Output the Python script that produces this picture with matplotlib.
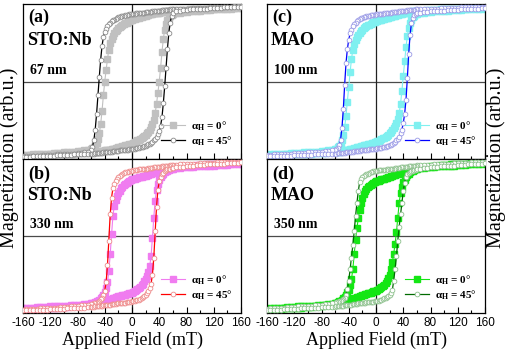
import matplotlib
matplotlib.use("Agg")
import matplotlib.pyplot as plt
from matplotlib.ticker import MultipleLocator

plt.rcParams['mathtext.fontset'] = 'custom'
plt.rcParams['mathtext.rm'] = 'Liberation Serif'
plt.rcParams['mathtext.bf'] = 'Liberation Serif:bold'

# Applied-field sampling of the descending branch (mT)
H_DESC = list(range(160, 60, -5)) + list(range(60, -61, -2)) + list(range(-65, -161, -5))

# Descending-branch magnetization (normalised); ascending branch is the point-mirror
A0 = [0.955,0.955,0.95,0.95,0.95,0.945,0.945,0.945,0.94,0.94,0.94,0.935,0.935,0.93,0.93,0.93,0.925,0.925,0.92,0.92,
      0.915,0.915,0.91,0.91,0.905,0.905,0.90,0.90,0.895,0.895,0.89,0.89,0.885,0.88,0.88,0.875,0.87,0.865,0.86,0.855,
      0.85,0.845,0.84,0.835,0.83,0.825,0.82,0.815,0.81,0.805,0.80,
      0.79,0.78,0.77,0.76,0.75,0.74,0.73,0.72,0.705,0.69,0.67,0.65,0.62,0.59,0.55,0.50,0.41,0.29,0.15,0.0,
      -0.18,-0.38,-0.55,-0.67,-0.74,-0.79,-0.82,-0.845,-0.86,-0.87,
      -0.885,-0.89,-0.895,-0.90,-0.905,-0.91,-0.915,-0.915,-0.92,-0.925,-0.925,-0.93,-0.93,-0.935,-0.935,-0.94,-0.94,-0.945,-0.945,-0.95]
A45 = [0.97,0.97,0.97,0.965,0.965,0.96,0.96,0.96,0.955,0.955,0.95,0.95,0.95,0.945,0.945,0.94,0.94,0.94,0.935,0.935,
       0.93,0.93,0.93,0.925,0.925,0.925,0.92,0.92,0.92,0.915,0.915,0.91,0.91,0.91,0.905,0.905,0.90,0.90,0.90,0.895,
       0.895,0.89,0.89,0.89,0.885,0.885,0.88,0.88,0.875,0.875,0.87,
       0.87,0.865,0.86,0.86,0.855,0.85,0.845,0.84,0.835,0.83,0.82,0.81,0.80,0.79,0.775,0.76,0.74,0.71,0.68,0.64,
       0.57,0.46,0.28,0.06,-0.18,-0.42,-0.62,-0.76,-0.84,-0.88,
       -0.905,-0.915,-0.92,-0.925,-0.93,-0.93,-0.935,-0.935,-0.94,-0.94,-0.945,-0.945,-0.95,-0.95,-0.955,-0.955,-0.96,-0.96,-0.965,-0.965]
B0 = [0.95,0.95,0.945,0.945,0.945,0.94,0.94,0.935,0.935,0.93,0.93,0.925,0.925,0.92,0.915,0.915,0.91,0.905,0.90,0.895,
      0.89,0.885,0.88,0.875,0.87,0.865,0.86,0.855,0.85,0.845,0.84,0.835,0.83,0.825,0.82,0.815,0.81,0.80,0.795,0.79,
      0.785,0.78,0.775,0.77,0.765,0.76,0.755,0.75,0.745,0.74,0.735,
      0.725,0.715,0.705,0.69,0.675,0.66,0.64,0.62,0.59,0.56,0.52,0.47,0.39,0.26,0.02,-0.24,-0.46,-0.60,-0.68,-0.73,
      -0.765,-0.79,-0.81,-0.825,-0.84,-0.85,-0.86,-0.865,-0.87,-0.875,
      -0.88,-0.885,-0.89,-0.895,-0.90,-0.90,-0.905,-0.905,-0.91,-0.91,-0.915,-0.915,-0.92,-0.92,-0.925,-0.925,-0.93,-0.93,-0.935,-0.935]
B45 = [0.965,0.965,0.96,0.96,0.96,0.955,0.955,0.955,0.95,0.95,0.95,0.945,0.945,0.94,0.94,0.935,0.935,0.93,0.93,0.925,
       0.925,0.92,0.92,0.915,0.915,0.91,0.91,0.905,0.905,0.90,0.90,0.895,0.895,0.89,0.89,0.885,0.885,0.88,0.88,0.875,
       0.875,0.87,0.87,0.87,0.865,0.865,0.86,0.86,0.855,0.855,0.85,
       0.845,0.84,0.835,0.83,0.825,0.815,0.805,0.795,0.78,0.765,0.745,0.72,0.68,0.62,0.50,0.28,-0.06,-0.38,-0.60,-0.71,
       -0.77,-0.80,-0.82,-0.84,-0.855,-0.865,-0.87,-0.875,-0.88,-0.885,
       -0.89,-0.895,-0.90,-0.905,-0.91,-0.915,-0.92,-0.925,-0.925,-0.93,-0.93,-0.935,-0.935,-0.94,-0.94,-0.945,-0.945,-0.95,-0.95,-0.955]
C0 = [0.95,0.95,0.95,0.945,0.945,0.945,0.94,0.94,0.94,0.935,0.935,0.93,0.93,0.93,0.925,0.925,0.92,0.92,0.915,0.915,
      0.91,0.91,0.905,0.905,0.90,0.90,0.895,0.89,0.89,0.885,0.88,0.875,0.87,0.865,0.86,0.855,0.85,0.845,0.84,0.835,
      0.83,0.825,0.82,0.815,0.81,0.805,0.80,0.795,0.79,0.785,0.78,
      0.77,0.765,0.755,0.745,0.735,0.725,0.71,0.70,0.685,0.67,0.65,0.63,0.605,0.575,0.54,0.49,0.41,0.29,0.12,-0.07,
      -0.26,-0.44,-0.59,-0.69,-0.76,-0.80,-0.83,-0.85,-0.865,-0.875,
      -0.885,-0.89,-0.895,-0.90,-0.905,-0.905,-0.91,-0.91,-0.915,-0.92,-0.92,-0.925,-0.925,-0.93,-0.93,-0.935,-0.935,-0.94,-0.94,-0.945]
C45 = [0.965,0.965,0.96,0.96,0.96,0.955,0.955,0.955,0.95,0.95,0.95,0.945,0.945,0.945,0.94,0.94,0.94,0.935,0.935,0.935,
       0.93,0.93,0.925,0.925,0.925,0.92,0.92,0.92,0.915,0.915,0.91,0.91,0.905,0.905,0.90,0.90,0.90,0.895,0.895,0.89,
       0.89,0.885,0.885,0.88,0.88,0.875,0.875,0.87,0.87,0.865,0.865,
       0.86,0.86,0.855,0.855,0.85,0.845,0.84,0.835,0.83,0.825,0.815,0.805,0.795,0.78,0.76,0.74,0.71,0.67,0.62,0.54,
       0.42,0.24,-0.04,-0.36,-0.60,-0.75,-0.82,-0.86,-0.875,-0.885,
       -0.89,-0.895,-0.90,-0.905,-0.91,-0.91,-0.915,-0.915,-0.92,-0.92,-0.925,-0.925,-0.93,-0.93,-0.935,-0.935,-0.94,-0.94,-0.945,-0.945]
D0 = [0.95,0.95,0.945,0.945,0.945,0.94,0.94,0.935,0.935,0.93,0.93,0.925,0.925,0.92,0.915,0.91,0.905,0.90,0.895,0.89,
      0.885,0.88,0.875,0.87,0.865,0.86,0.855,0.85,0.845,0.84,0.835,0.83,0.82,0.815,0.81,0.80,0.795,0.79,0.78,0.775,
      0.77,0.76,0.755,0.75,0.745,0.74,0.735,0.73,0.72,0.715,0.71,
      0.70,0.69,0.68,0.665,0.65,0.63,0.61,0.58,0.55,0.50,0.43,0.34,0.23,0.10,-0.05,-0.24,-0.43,-0.56,-0.64,-0.70,
      -0.73,-0.765,-0.79,-0.81,-0.825,-0.84,-0.85,-0.86,-0.865,-0.87,
      -0.88,-0.885,-0.89,-0.895,-0.90,-0.905,-0.905,-0.91,-0.91,-0.915,-0.915,-0.92,-0.92,-0.925,-0.93,-0.93,-0.935,-0.94,-0.94,-0.945]
D45 = [0.96,0.96,0.955,0.955,0.955,0.95,0.95,0.945,0.945,0.945,0.94,0.94,0.935,0.935,0.93,0.93,0.925,0.925,0.92,0.92,
       0.92,0.915,0.915,0.91,0.91,0.905,0.905,0.90,0.90,0.895,0.895,0.89,0.89,0.885,0.885,0.88,0.88,0.875,0.875,0.87,
       0.87,0.865,0.865,0.86,0.86,0.86,0.855,0.855,0.855,0.85,0.85,
       0.845,0.84,0.835,0.83,0.82,0.81,0.80,0.79,0.775,0.76,0.735,0.70,0.58,0.43,0.26,0.06,-0.12,-0.28,-0.43,-0.58,
       -0.69,-0.76,-0.80,-0.82,-0.835,-0.845,-0.85,-0.855,-0.86,-0.865,
       -0.875,-0.88,-0.885,-0.89,-0.895,-0.90,-0.905,-0.905,-0.91,-0.915,-0.915,-0.92,-0.925,-0.925,-0.93,-0.93,-0.935,-0.94,-0.94,-0.945]

PANEL_LABELS = ['(a)', '(b)', '(c)', '(d)']
SUBSTRATES = ['STO:Nb', 'STO:Nb', 'MAO', 'MAO']
THICKNESS = ['67 nm', '330 nm', '100 nm', '350 nm']
SERIES_0 = [A0, B0, C0, D0]
SERIES_45 = [A45, B45, C45, D45]
LEGEND_LABELS = ['α$_\\mathbf{H}$ = 0°', 'α$_\\mathbf{H}$ = 45°']
XTICKS = [-160, -120, -80, -40, 0, 40, 80, 120, 160]

SQ_COLORS = ['#c0c0c0', '#f07cf0', '#7ff0f0', '#14e614']
CI_EDGE = ['#8a8a8a', '#ee8a8a', '#9a9ae6', '#8cc08c']
LINE_COLORS = ['#000000', '#ff0000', '#0000ff', '#006a00']

def loop(h, m):
    hh = list(h) + [-v for v in h]
    mm = list(m) + [-v for v in m]
    return hh, mm

fig = plt.figure(figsize=(5.05, 3.54), dpi=100)
W = 218 / 505
positions = [
    (23 / 505, 1 - 159 / 354, W, 155 / 354),
    (23 / 505, 1 - 313 / 354, W, 154 / 354),
    (267 / 505, 1 - 159 / 354, W, 155 / 354),
    (267 / 505, 1 - 313 / 354, W, 154 / 354),
]
serif = 'Liberation Serif'
sans = 'Liberation Sans'

for i in range(4):
    ax = fig.add_axes(positions[i])
    ax.axhline(0, color='#4a4a4a', lw=0.9, zorder=1)
    ax.axvline(0, color='#222222', lw=0.9, zorder=1)
    h0, m0 = loop(H_DESC, SERIES_0[i])
    h45, m45 = loop(H_DESC, SERIES_45[i])
    l0, = ax.plot(h0, m0, '-s', color=SQ_COLORS[i], ms=4.6, mec=SQ_COLORS[i], lw=0.8, zorder=2)
    l45, = ax.plot(h45, m45, '-o', color=LINE_COLORS[i], ms=3.4, mfc='white',
                   mec=CI_EDGE[i], mew=0.6, lw=0.9, zorder=3)
    ax.set_xlim(-160, 160)
    ax.set_ylim(-1, 1)
    ax.set_yticks([])
    ax.xaxis.set_major_locator(MultipleLocator(40))
    ax.xaxis.set_minor_locator(MultipleLocator(20))
    ax.tick_params(axis='x', which='major', direction='in', length=4, width=0.8)
    ax.tick_params(axis='x', which='minor', direction='in', length=2.5, width=0.8)
    for s in ax.spines.values():
        s.set_linewidth(0.9)
    if i in (0, 2):
        ax.tick_params(axis='x', labelbottom=False)
    else:
        ax.set_xticks(XTICKS)
        ax.set_xticklabels([str(t) for t in XTICKS], fontsize=8.5, family=sans)
        ax.tick_params(axis='x', pad=3)
        ax.set_xlabel('Applied Field (mT)', fontsize=13, family=serif, labelpad=2)
    top = i in (0, 2)
    ax.text(0.022, 0.915 if top else 0.90, PANEL_LABELS[i], transform=ax.transAxes,
            fontsize=13, fontweight='bold', family=serif, va='center', ha='left')
    ax.text(0.018, 0.765, SUBSTRATES[i], transform=ax.transAxes,
            fontsize=13, fontweight='bold', family=serif, va='center', ha='left')
    ax.text(0.032, 0.572, THICKNESS[i], transform=ax.transAxes,
            fontsize=10, fontweight='bold', family=serif, va='center', ha='left')
    ax.legend([l0, l45], LEGEND_LABELS, loc='lower right', bbox_to_anchor=(0.985, 0.035),
              frameon=False, borderpad=0, handlelength=2.2, handletextpad=0.5, labelspacing=0.15,
              prop={'family': serif, 'weight': 'bold', 'size': 8})

fig.text(9 / 505, 1 - 158 / 354, 'Magnetization (arb.u.)', rotation=90, ha='center', va='center',
         fontsize=14.5, family=serif)
fig.text(496 / 505, 1 - 158 / 354, 'Magnetization (arb.u.)', rotation=90, ha='center', va='center',
         fontsize=14.5, family=serif)

fig.savefig('out.png', dpi=100)
